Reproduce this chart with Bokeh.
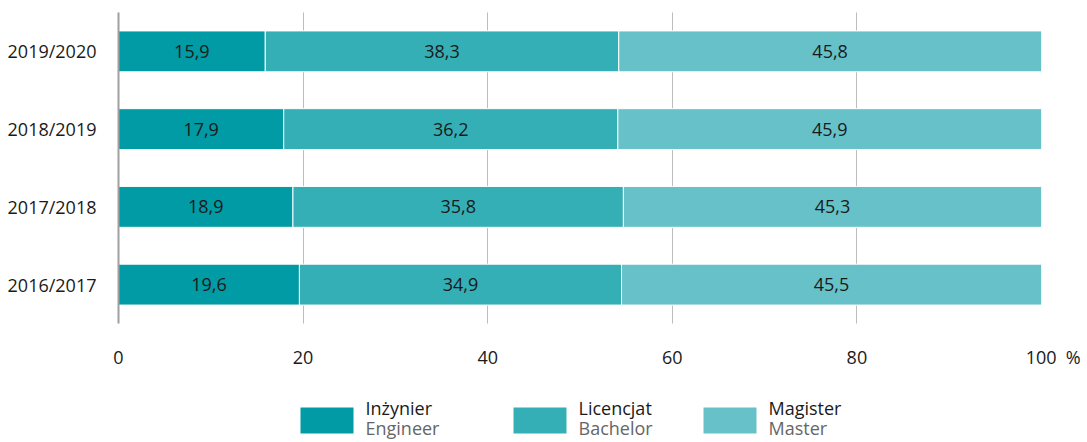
from bokeh.plotting import figure
from bokeh.layouts import column
from bokeh.models import ColumnDataSource, Range1d, FixedTicker
from bokeh.core.properties import value
from bokeh.embed import file_html
from bokeh.resources import INLINE

# ---- data ----
years = ["2016/2017", "2017/2018", "2018/2019", "2019/2020"]
inzynier = [19.6, 18.9, 17.9, 15.9]
licencjat = [34.9, 35.8, 36.2, 38.3]
magister = [45.5, 45.3, 45.9, 45.8]
series_keys = ["inz", "lic", "mag"]
series_pl = ["Inżynier", "Licencjat", "Magister"]
series_en = ["Engineer", "Bachelor", "Master"]
colors = ["#009ba4", "#35afb6", "#66c2c8"]
x_ticks = [0, 20, 40, 60, 80, 100]
unit_label = "%"

FONT = "Open Sans"
TXT = "#1a1a1a"
NB = "\u00a0"

def fmt(v):
    return f"{v:.1f}".replace(".", ",")

src = ColumnDataSource(dict(year=years, inz=inzynier, lic=licencjat, mag=magister))

W = 1085
FL, FR = 118, 1041
p = figure(width=W, height=375, y_range=years, x_range=Range1d(0, 100),
           output_backend="svg", toolbar_location=None,
           min_border_left=FL, min_border_right=W - FR, min_border_top=12, min_border_bottom=52)
p.outline_line_color = None

p.hbar_stack(series_keys, y="year", height=0.526, color=colors,
             line_color="white", line_width=1, source=src)

# value labels centred in each segment
lefts = [0.0] * len(years)
for key, vals in zip(series_keys, [inzynier, licencjat, magister]):
    mids = [l + v / 2 for l, v in zip(lefts, vals)]
    lsrc = ColumnDataSource(dict(x=mids, y=years, t=[fmt(v) for v in vals]))
    p.text(x="x", y="y", text="t", source=lsrc, text_align="center", text_baseline="middle",
           text_font=value(FONT), text_font_size="18px", text_color=TXT)
    lefts = [l + v for l, v in zip(lefts, vals)]

# grid
p.ygrid.grid_line_color = None
p.xgrid.ticker = FixedTicker(ticks=x_ticks)
p.xgrid.grid_line_color = "#7a7a7a"
p.xgrid.grid_line_dash = "1 1"
p.xgrid.grid_line_width = 1

# axes
p.xaxis.ticker = FixedTicker(ticks=x_ticks)
p.xaxis.major_label_overrides = {x_ticks[-1]: NB * 5 + str(x_ticks[-1]) + NB * 2 + unit_label}
p.xaxis.axis_line_color = None
p.xaxis.major_tick_line_color = None
p.xaxis.minor_tick_line_color = None
p.xaxis.major_label_text_font = FONT
p.xaxis.major_label_text_font_size = "18px"
p.xaxis.major_label_text_color = TXT
p.xaxis.major_label_standoff = 15

p.yaxis.axis_line_color = "#a0a0a0"
p.yaxis.axis_line_width = 2
p.yaxis.major_tick_line_color = None
p.yaxis.minor_tick_line_color = None
p.yaxis.major_label_text_font = FONT
p.yaxis.major_label_text_font_size = "18px"
p.yaxis.major_label_text_color = TXT
p.yaxis.major_label_standoff = 16

# ---- legend strip (layout positions in page pixels) ----
LH = 65
leg = figure(width=W, height=LH, x_range=Range1d(FL, FR), y_range=Range1d(LH, 0),
             x_axis_type=None, y_axis_type=None, output_backend="svg", toolbar_location=None,
             min_border_left=FL, min_border_right=W - FR, min_border_top=0, min_border_bottom=0)
leg.outline_line_color = None
leg.grid.grid_line_color = None
box_x = [300, 513, 703]
box_w, box_h, box_top = 53, 26, 32
text_x = [bx + box_w + 12 for bx in box_x]
leg.quad(left=box_x, right=[bx + box_w for bx in box_x], top=[box_top] * 3,
         bottom=[box_top + box_h] * 3, fill_color=colors, line_color=None)
leg.text(x=text_x, y=[32] * 3, text=series_pl, text_baseline="alphabetic",
         text_font=value(FONT), text_font_size="18px", text_color=TXT)
leg.text(x=text_x, y=[52] * 3, text=series_en, text_baseline="alphabetic",
         text_font=value(FONT), text_font_size="18px", text_color="#666666")

layout = column(p, leg, spacing=0)
open("out.html", "w").write(file_html(layout, INLINE))
